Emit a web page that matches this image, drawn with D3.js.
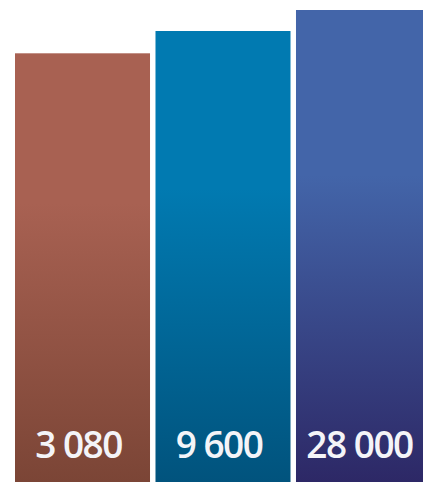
<!DOCTYPE html>
<html>
<head>
<meta charset="utf-8">
<script src="https://cdn.jsdelivr.net/npm/d3@7"></script>
<style>
  html, body { margin: 0; padding: 0; background: #fff; overflow: hidden; }
</style>
</head>
<body>
<div id="chart"></div>
<script>
// data
const categories = ["a", "b", "c"];
const values = [3080, 9600, 28000];
const labels = ["3 080", "9 600", "28 000"];
const topColors = ["#a86152", "#017ab1", "#4365a9"];
const bottomColors = ["#7b4536", "#01537d", "#2d2866"];

const width = 423, height = 482;

const svg = d3.select("#chart")
  .append("svg")
  .attr("width", width)
  .attr("height", height);

// x band: bars 135px wide, third one runs off the right edge
const x = d3.scaleBand()
  .domain(categories)
  .range([15, 431])
  .paddingInner(0.039);

// bar heights grow with the log of the value
const y = d3.scaleLog()
  .domain([1e-6, 28000])
  .range([height, 10]);

const defs = svg.append("defs");
categories.forEach(function(c, i) {
  const g = defs.append("linearGradient")
    .attr("id", "grad" + i)
    .attr("x1", 0).attr("y1", 0)
    .attr("x2", 0).attr("y2", 1);
  g.append("stop").attr("offset", "0%").attr("stop-color", topColors[i]);
  g.append("stop").attr("offset", "35%").attr("stop-color", topColors[i]);
  g.append("stop").attr("offset", "100%").attr("stop-color", bottomColors[i]);
});

svg.append("g")
  .selectAll("rect")
  .data(values)
  .enter()
  .append("rect")
  .attr("x", (d, i) => x(categories[i]))
  .attr("y", d => y(d))
  .attr("width", x.bandwidth())
  .attr("height", d => height - y(d))
  .style("fill", (d, i) => "url(#grad" + i + ")");

svg.append("g")
  .selectAll("text")
  .data(labels)
  .enter()
  .append("text")
  .attr("x", (d, i) => x(categories[i]) + x.bandwidth() / 2 - 4)
  .attr("y", 458)
  .attr("text-anchor", "middle")
  .style("font-family", "'Open Sans', sans-serif")
  .style("font-weight", 600)
  .style("font-size", "37px")
  .style("letter-spacing", "-1.5px")
  .style("fill", "#f4f4f8")
  .text(d => d);
</script>
</body>
</html>
